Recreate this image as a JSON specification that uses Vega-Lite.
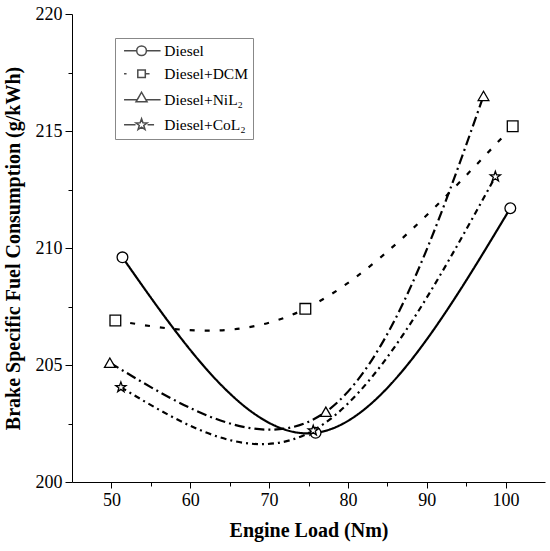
{
  "$schema": "https://vega.github.io/schema/vega-lite/v6.json",
  "width": 473,
  "height": 468,
  "autosize": "none",
  "padding": {"left": 72, "top": 14, "right": 5, "bottom": 69},
  "config": {
    "view": {"stroke": null},
    "font": "Liberation Serif",
    "axis": {
      "grid": false,
      "domainColor": "black",
      "tickColor": "black",
      "labelColor": "black",
      "titleColor": "black",
      "labelFont": "Liberation Serif",
      "titleFont": "Liberation Serif",
      "labelFontSize": 18,
      "titleFontSize": 20,
      "titleFontWeight": "bold",
      "domainWidth": 1,
      "tickWidth": 1
    }
  },
  "data": {
    "values": [
      {"series": "Diesel", "load": 51.4, "bsfc": 209.6},
      {"series": "Diesel", "load": 75.9, "bsfc": 202.1},
      {"series": "Diesel", "load": 100.6, "bsfc": 211.7},
      {"series": "Diesel+DCM", "load": 50.5, "bsfc": 206.9},
      {"series": "Diesel+DCM", "load": 74.6, "bsfc": 207.4},
      {"series": "Diesel+DCM", "load": 100.9, "bsfc": 215.2},
      {"series": "Diesel+NiL₂", "load": 49.8, "bsfc": 205.1},
      {"series": "Diesel+NiL₂", "load": 77.2, "bsfc": 203.0},
      {"series": "Diesel+NiL₂", "load": 97.2, "bsfc": 216.5},
      {"series": "Diesel+CoL₂", "load": 51.2, "bsfc": 204.05},
      {"series": "Diesel+CoL₂", "load": 75.6, "bsfc": 202.2},
      {"series": "Diesel+CoL₂", "load": 98.7, "bsfc": 213.05}
    ]
  },
  "layer": [
    {
      "mark": {"type": "line", "interpolate": "natural", "color": "black", "strokeWidth": 2.2},
      "encoding": {
        "x": {
          "field": "load", "type": "quantitative",
          "scale": {"domain": [45, 105], "nice": false, "zero": false},
          "axis": {"orient": "bottom", "values": [50, 60, 70, 80, 90, 100], "tickSize": 6, "labelPadding": 3, "title": "Engine Load (Nm)", "titlePadding": 11}
        },
        "y": {
          "field": "bsfc", "type": "quantitative",
          "scale": {"domain": [200, 220], "nice": false, "zero": false},
          "axis": {"orient": "left", "values": [200, 205, 210, 215, 220], "tickSize": 7, "labelPadding": 3, "title": "Brake Specific Fuel Consumption (g/kWh)", "titlePadding": 12}
        },
        "strokeDash": {
          "field": "series", "type": "nominal",
          "scale": {"domain": ["Diesel", "Diesel+DCM", "Diesel+NiL₂", "Diesel+CoL₂"], "range": [[1, 0], [5, 10], [10, 4, 2, 4], [6, 4, 2, 4]]},
          "legend": null
        }
      }
    },
    {
      "mark": {"type": "point", "filled": true, "fill": "white", "stroke": "black", "strokeWidth": 1.3, "size": 115, "opacity": 1},
      "encoding": {
        "x": {"field": "load", "type": "quantitative", "axis": {"orient": "bottom", "values": [55, 65, 75, 85, 95], "tickSize": 4, "labels": false, "domain": false, "title": null}},
        "y": {"field": "bsfc", "type": "quantitative", "axis": {"orient": "left", "values": [202.5, 207.5, 212.5, 217.5], "tickSize": 4, "labels": false, "domain": false, "title": null}},
        "shape": {
          "field": "series", "type": "nominal",
          "scale": {"domain": ["Diesel", "Diesel+DCM", "Diesel+NiL₂", "Diesel+CoL₂"], "range": ["circle", "square", "triangle-up", "M0,-1L0.235,-0.324L0.951,-0.309L0.38,0.124L0.588,0.809L0,0.4L-0.588,0.809L-0.38,0.124L-0.951,-0.309L-0.235,-0.324Z"]},
          "legend": null
        }
      }
    },
    {
      "transform": [{"filter": "datum.load > 1000"}],
      "mark": {"type": "point", "filled": true, "fill": "white", "stroke": "black", "strokeWidth": 1.8, "size": 121},
      "encoding": {
        "x": {"field": "load", "type": "quantitative", "axis": null},
        "y": {"field": "bsfc", "type": "quantitative", "axis": null},
        "shape": {
          "field": "series", "type": "nominal",
          "scale": {"domain": ["Diesel", "Diesel+DCM", "Diesel+NiL₂", "Diesel+CoL₂"], "range": [
            "M-3.5,0H-0.97M0.97,0H3.8M-0.97,0A0.97,0.97 0 1,1 0.97,0A0.97,0.97 0 1,1 -0.97,0Z",
            "M-3.5,0H-3M0.75,0H1.6M-0.75,-0.75H0.75V0.75H-0.75Z",
            "M-3.5,0H-0.86M0.86,0H3.8M0,-1.5L1.1,0.42H-1.1Z",
            "M-3.5,0H-1.2M1.2,0H2.5M0,-1.18L0.28,-0.38L1.12,-0.36L0.45,0.15L0.69,0.95L0,0.47L-0.69,0.95L-0.45,0.15L-1.12,-0.36L-0.28,-0.38Z"
          ]},
          "legend": {
            "title": null,
            "orient": "none",
            "legendX": 43,
            "legendY": 24,
            "strokeColor": "#888888",
            "padding": 5,
            "labelFont": "Liberation Serif",
            "labelFontSize": 15.5,
            "labelColor": "black",
            "symbolOffset": 13.8,
            "labelOffset": 15,
            "rowPadding": 6,
            "encode": {
              "symbols": {
                "update": {
                  "fill": {"value": "white"},
                  "stroke": {"value": "black"},
                  "strokeWidth": {"value": 1.9},
                  "opacity": {"value": 1},
                  "fillOpacity": {"value": 1},
                  "strokeOpacity": {"value": 1}
                }
              }
            }
          }
        }
      }
    }
  ],
  "resolve": {"scale": {"shape": "independent"}, "axis": {"x": "independent", "y": "independent"}}
}
